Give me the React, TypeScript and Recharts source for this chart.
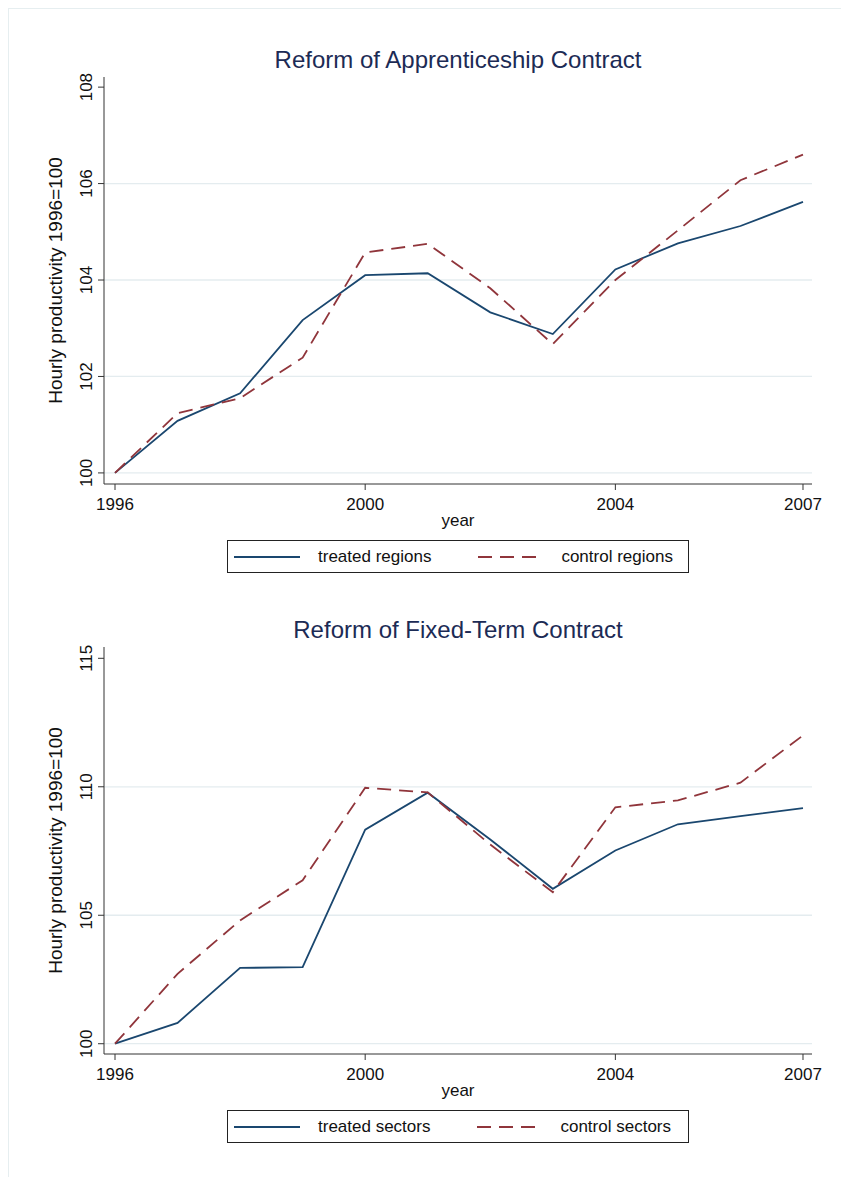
import React from "react";
import { LineChart, Line, XAxis, YAxis, CartesianGrid } from "recharts";

const years = [1996, 1997, 1998, 1999, 2000, 2001, 2002, 2003, 2004, 2005, 2006, 2007];

// top panel: apprenticeship reform
const treatedRegions = [100, 101.08, 101.65, 103.17, 104.1, 104.14, 103.33, 102.88, 104.22, 104.76, 105.12, 105.62];
const controlRegions = [100, 101.24, 101.55, 102.39, 104.57, 104.75, 103.83, 102.67, 104.0, 105.03, 106.07, 106.6];

// bottom panel: fixed-term reform
const treatedSectors = [100, 100.81, 102.95, 102.98, 108.33, 109.77, 107.95, 106.03, 107.52, 108.54, 108.86, 109.17];
const controlSectors = [100, 102.72, 104.8, 106.36, 109.96, 109.78, 107.75, 105.9, 109.2, 109.47, 110.16, 112.0];

const xTicks = [1996, 2000, 2004, 2007];
const yTicksTop = [100, 102, 104, 106, 108];
const gridTop = [100, 102, 104, 106];
const yTicksBottom = [100, 105, 110, 115];
const gridBottom = [100, 105, 110];

const FONT = '"Liberation Sans", Arial, Helvetica, sans-serif';
const NAVY = "#1a476f";
const MAROON = "#90353b";
const AXIS = "#333333";
const GRID = "#e4ecef";

const YTick = (props: any) => {
  const { x, y, payload } = props;
  return (
    <text x={x} y={y} transform={`rotate(-90 ${x} ${y})`} textAnchor="middle" fontSize={17} fill="#111" fontFamily={FONT}>
      {payload.value}
    </text>
  );
};

const yTitle = (props: any) => {
  const vb = props.viewBox || { x: 54, y: 77, width: 50, height: 407 };
  const cx = vb.x + 8;
  const cy = vb.y + vb.height / 2;
  return (
    <text x={cx} y={cy} transform={`rotate(-90 ${cx} ${cy})`} textAnchor="middle" fontSize={19} fill="#111" fontFamily={FONT}>
      Hourly productivity 1996=100
    </text>
  );
};

function Panel(props: {
  top: number;
  title: string;
  treated: number[];
  control: number[];
  names: [string, string];
  yDomain: [number, number];
  yTicks: number[];
  grid: number[];
}) {
  const { top, title, treated, control, names, yDomain, yTicks, grid } = props;
  const data = years.map((yr, i) => ({ year: yr, treated: treated[i], control: control[i] }));
  return (
    <div style={{ position: "absolute", left: 0, top, width: 841, height: 600 }}>
      <div
        style={{
          position: "absolute",
          left: 104,
          width: 708,
          top: 48,
          textAlign: "center",
          fontSize: 24,
          lineHeight: "24px",
          color: "#1c2b55",
          fontFamily: FONT,
        }}
      >
        {title}
      </div>
      <LineChart width={841} height={600} data={data} margin={{ top: 77, right: 29, left: 54, bottom: 72 }}>
        <CartesianGrid vertical={false} horizontalValues={grid} stroke={GRID} strokeWidth={1.3} />
        <XAxis
          dataKey="year"
          type="number"
          domain={[1995.824, 2007.144]}
          ticks={xTicks}
          allowDataOverflow
          height={44}
          tickSize={6}
          tickMargin={8}
          stroke={AXIS}
          tick={{ fontSize: 17, fill: "#111", fontFamily: FONT }}
          label={{ value: "year", position: "insideBottom", offset: 2, fontSize: 17, fill: "#111", fontFamily: FONT }}
        />
        <YAxis
          type="number"
          domain={yDomain}
          ticks={yTicks}
          allowDataOverflow
          width={50}
          tickSize={6}
          tickMargin={6}
          stroke={AXIS}
          tick={<YTick />}
          label={yTitle}
        />
        <Line type="linear" dataKey="treated" name={names[0]} stroke={NAVY} strokeWidth={1.8} dot={false} isAnimationActive={false} />
        <Line
          type="linear"
          dataKey="control"
          name={names[1]}
          stroke={MAROON}
          strokeWidth={1.8}
          strokeDasharray="14 8"
          dot={false}
          isAnimationActive={false}
        />
      </LineChart>
      <Legend names={names} />
    </div>
  );
}

function Legend({ names }: { names: [string, string] }) {
  const sample = (color: string, dash?: string) => (
    <svg width={66} height={10} style={{ display: "block" }}>
      <line x1={0} y1={5} x2={66} y2={5} stroke={color} strokeWidth={1.8} strokeDasharray={dash} />
    </svg>
  );
  return (
    <div
      style={{
        position: "absolute",
        left: 227,
        top: 540,
        width: 460,
        height: 31,
        border: "1px solid #222",
        display: "flex",
        alignItems: "center",
        fontFamily: FONT,
        fontSize: 17,
        color: "#111",
        boxSizing: "content-box",
      }}
    >
      <div style={{ marginLeft: 6 }}>{sample(NAVY)}</div>
      <div style={{ marginLeft: 18 }}>{names[0]}</div>
      <div style={{ marginLeft: 47 }}>{sample(MAROON, "14 8")}</div>
      <div style={{ marginLeft: 17 }}>{names[1]}</div>
    </div>
  );
}

export default function App() {
  return (
    <div style={{ position: "absolute", left: 0, top: 0, width: 841, height: 1177, background: "#fff", overflow: "hidden" }}>
      <div
        style={{
          position: "absolute",
          left: 8,
          top: 8,
          width: 833,
          height: 1169,
          borderTop: "1px solid #e6eef0",
          borderLeft: "1px solid #e6eef0",
          boxSizing: "border-box",
        }}
      />
      <Panel
        top={0}
        title="Reform of Apprenticeship Contract"
        treated={treatedRegions}
        control={controlRegions}
        names={["treated regions", "control regions"]}
        yDomain={[99.77, 108.21]}
        yTicks={yTicksTop}
        grid={gridTop}
      />
      <Panel
        top={570}
        title="Reform of Fixed-Term Contract"
        treated={treatedSectors}
        control={controlSectors}
        names={["treated sectors", "control sectors"]}
        yDomain={[99.6, 115.44]}
        yTicks={yTicksBottom}
        grid={gridBottom}
      />
    </div>
  );
}
